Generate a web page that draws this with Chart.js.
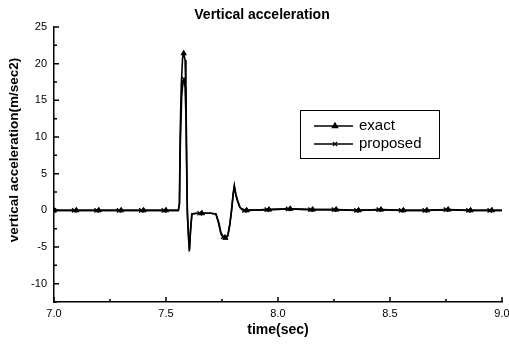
<!DOCTYPE html>
<html>
<head>
<meta charset="utf-8">
<script src="https://cdn.jsdelivr.net/npm/chart.js@4/dist/chart.umd.min.js"></script>
<style>
  html, body { margin: 0; padding: 0; background: #fff; }
  #chart { display: block; }
</style>
</head>
<body>
<canvas id="chart" width="509" height="345"></canvas>
<script>
// Data
const exactTime = [7.0, 7.1, 7.2, 7.3, 7.4, 7.5, 7.555, 7.560, 7.563, 7.568, 7.574, 7.579, 7.585, 7.589, 7.592, 7.595,
  7.600, 7.604, 7.609, 7.615, 7.63, 7.66, 7.70, 7.723, 7.735, 7.745, 7.755, 7.765, 7.776, 7.785, 7.793, 7.800,
  7.805, 7.812, 7.82, 7.83, 7.84, 7.86, 7.96, 8.055, 8.155, 8.26, 8.36, 8.46, 8.56, 8.665, 8.76, 8.86, 8.955, 9.0];
const exactAccel = [0, 0, 0, 0, 0, 0, 0, 1, 10, 17, 20.8, 21.4, 20.5, 16, 8, 0,
  -3, -5.6, -3, -0.5, -0.4, -0.4, -0.4, -0.5, -1.8, -3.2, -3.7, -3.75, -3.5, -2, 0, 2.3,
  3.4, 2.2, 1.3, 0.4, 0.1, 0, 0.1, 0.2, 0.1, 0.1, 0, 0.1, 0, 0, 0.1, 0, 0, 0];
const exactMarks = [7.0, 7.1, 7.2, 7.3, 7.4, 7.5, 7.579, 7.66, 7.765, 7.86, 7.96, 8.055, 8.155, 8.26, 8.36, 8.46,
  8.56, 8.665, 8.76, 8.86, 8.955];

const proposedTime = [7.0, 7.09, 7.19, 7.29, 7.39, 7.49, 7.555, 7.560, 7.564, 7.570, 7.576, 7.580, 7.585, 7.589, 7.592,
  7.596, 7.601, 7.605, 7.610, 7.616, 7.65, 7.70, 7.723, 7.735, 7.745, 7.755, 7.765, 7.776, 7.785, 7.793, 7.800,
  7.805, 7.812, 7.82, 7.83, 7.84, 7.85, 7.95, 8.045, 8.145, 8.25, 8.35, 8.45, 8.55, 8.655, 8.75, 8.85, 8.945, 9.0];
const proposedAccel = [0, 0, 0, 0, 0, 0, 0, 0.8, 9, 15.5, 17.6, 17.9, 16.8, 13, 6,
  -1, -4, -5.3, -2.5, -0.5, -0.4, -0.4, -0.5, -1.6, -3.0, -3.6, -3.7, -3.4, -1.8, 0.2, 2.2,
  3.2, 2.0, 1.2, 0.4, 0.1, 0, 0.1, 0.2, 0.1, 0.1, 0, 0.1, 0, 0, 0.1, 0, 0, 0];
const proposedMarks = [7.0, 7.09, 7.19, 7.29, 7.39, 7.49, 7.580, 7.65, 7.755, 7.85, 7.95, 8.045, 8.145, 8.25, 8.35,
  8.45, 8.55, 8.655, 8.75, 8.85, 8.945];

const seriesNames = ['exact', 'proposed'];
const xTicks = [7.0, 7.5, 8.0, 8.5, 9.0];
const yTicks = [-10, -5, 0, 5, 10, 15, 20, 25];

const FONT = '"Liberation Sans", Arial, sans-serif';

function toPoints(ts, vs) {
  return ts.map((t, i) => ({ x: t, y: vs[i] }));
}

// Inward tick marks, major and minor
const tickMarks = {
  id: 'tickMarks',
  afterDraw(chart) {
    const { ctx, chartArea, scales } = chart;
    ctx.save();
    ctx.strokeStyle = '#000';
    ctx.lineWidth = 1.5;
    ctx.beginPath();
    for (let v = -12.5; v <= 25; v += 2.5) {
      const y = scales.y.getPixelForValue(v);
      const len = yTicks.includes(v) ? 5 : 3;
      ctx.moveTo(chartArea.left, y);
      ctx.lineTo(chartArea.left + len, y);
    }
    for (let v = 7.0; v <= 9.001; v += 0.25) {
      const x = scales.x.getPixelForValue(v);
      const major = Math.abs(v * 2 - Math.round(v * 2)) < 1e-6;
      ctx.moveTo(x, chartArea.bottom);
      ctx.lineTo(x, chartArea.bottom - (major ? 5 : 3));
    }
    ctx.stroke();
    ctx.restore();
  }
};

// Title, y axis label and boxed legend
const decorations = {
  id: 'decorations',
  afterDraw(chart) {
    const { ctx } = chart;
    ctx.save();
    ctx.fillStyle = '#000';
    ctx.font = 'bold 14px ' + FONT;
    ctx.textAlign = 'center';
    ctx.textBaseline = 'middle';
    ctx.fillText('Vertical acceleration', 262, 15);

    ctx.save();
    ctx.translate(14, 150);
    ctx.rotate(-Math.PI / 2);
    ctx.font = 'bold 13.5px ' + FONT;
    ctx.fillText('vertical acceleration(m/sec2)', 0, 0);
    ctx.restore();

    ctx.strokeStyle = '#000';
    ctx.lineWidth = 1;
    ctx.strokeRect(300.5, 110.5, 139, 48);
    const styles = ['triangle', 'crossRot'];
    const rows = [126, 144];
    ctx.font = '15px ' + FONT;
    ctx.textAlign = 'left';
    rows.forEach((y, i) => {
      ctx.lineWidth = 1.3;
      ctx.beginPath();
      ctx.moveTo(314, y);
      ctx.lineTo(353, y);
      ctx.stroke();
      Chart.helpers.drawPoint(ctx, { pointStyle: styles[i], radius: 3, borderWidth: 1.3 }, 335, y);
      ctx.fill();
      ctx.fillText(seriesNames[i], 359, y);
    });
    ctx.restore();
  }
};

function markRadius(marks) {
  return c => (c.raw && marks.some(m => Math.abs(m - c.raw.x) < 1e-6)) ? 3 : 0;
}

new Chart(document.getElementById('chart'), {
  type: 'line',
  data: {
    datasets: [
      {
        label: seriesNames[0],
        data: toPoints(exactTime, exactAccel),
        borderColor: '#000',
        backgroundColor: '#000',
        borderWidth: 1.6,
        pointStyle: 'triangle',
        pointRadius: markRadius(exactMarks),
        pointBorderWidth: 1,
        tension: 0
      },
      {
        label: seriesNames[1],
        data: toPoints(proposedTime, proposedAccel),
        borderColor: '#000',
        backgroundColor: '#000',
        borderWidth: 1.6,
        pointStyle: 'crossRot',
        pointRadius: markRadius(proposedMarks),
        pointBorderWidth: 1.3,
        tension: 0
      }
    ]
  },
  options: {
    responsive: false,
    animation: false,
    devicePixelRatio: 1,
    layout: { padding: { top: 27, right: 7, left: 0, bottom: 0 } },
    plugins: {
      legend: { display: false },
      title: { display: false },
      tooltip: { enabled: false }
    },
    scales: {
      x: {
        type: 'linear',
        min: 7.0,
        max: 9.0,
        grid: { display: false, drawTicks: false, tickLength: 0 },
        border: { display: true, color: '#000', width: 1.5 },
        afterBuildTicks: s => { s.ticks = xTicks.map(v => ({ value: v })); },
        afterFit: s => { s.height = 43; s.paddingLeft = 0; s.paddingRight = 0; },
        ticks: {
          color: '#000',
          font: { family: FONT, size: 11 },
          padding: 5,
          maxRotation: 0,
          callback: v => v.toFixed(1)
        },
        title: {
          display: true,
          text: 'time(sec)',
          color: '#000',
          font: { family: FONT, size: 14, weight: 'bold' },
          padding: { top: 0, bottom: 6 }
        }
      },
      y: {
        type: 'linear',
        min: -12.5,
        max: 25,
        grid: { display: false, drawTicks: false, tickLength: 0 },
        border: { display: true, color: '#000', width: 1.5 },
        afterBuildTicks: s => { s.ticks = yTicks.map(v => ({ value: v })); },
        afterFit: s => { s.width = 54; s.paddingTop = 0; s.paddingBottom = 0; },
        ticks: {
          color: '#000',
          font: { family: FONT, size: 11 },
          padding: 7
        }
      }
    }
  },
  plugins: [tickMarks, decorations]
});
</script>
</body>
</html>
